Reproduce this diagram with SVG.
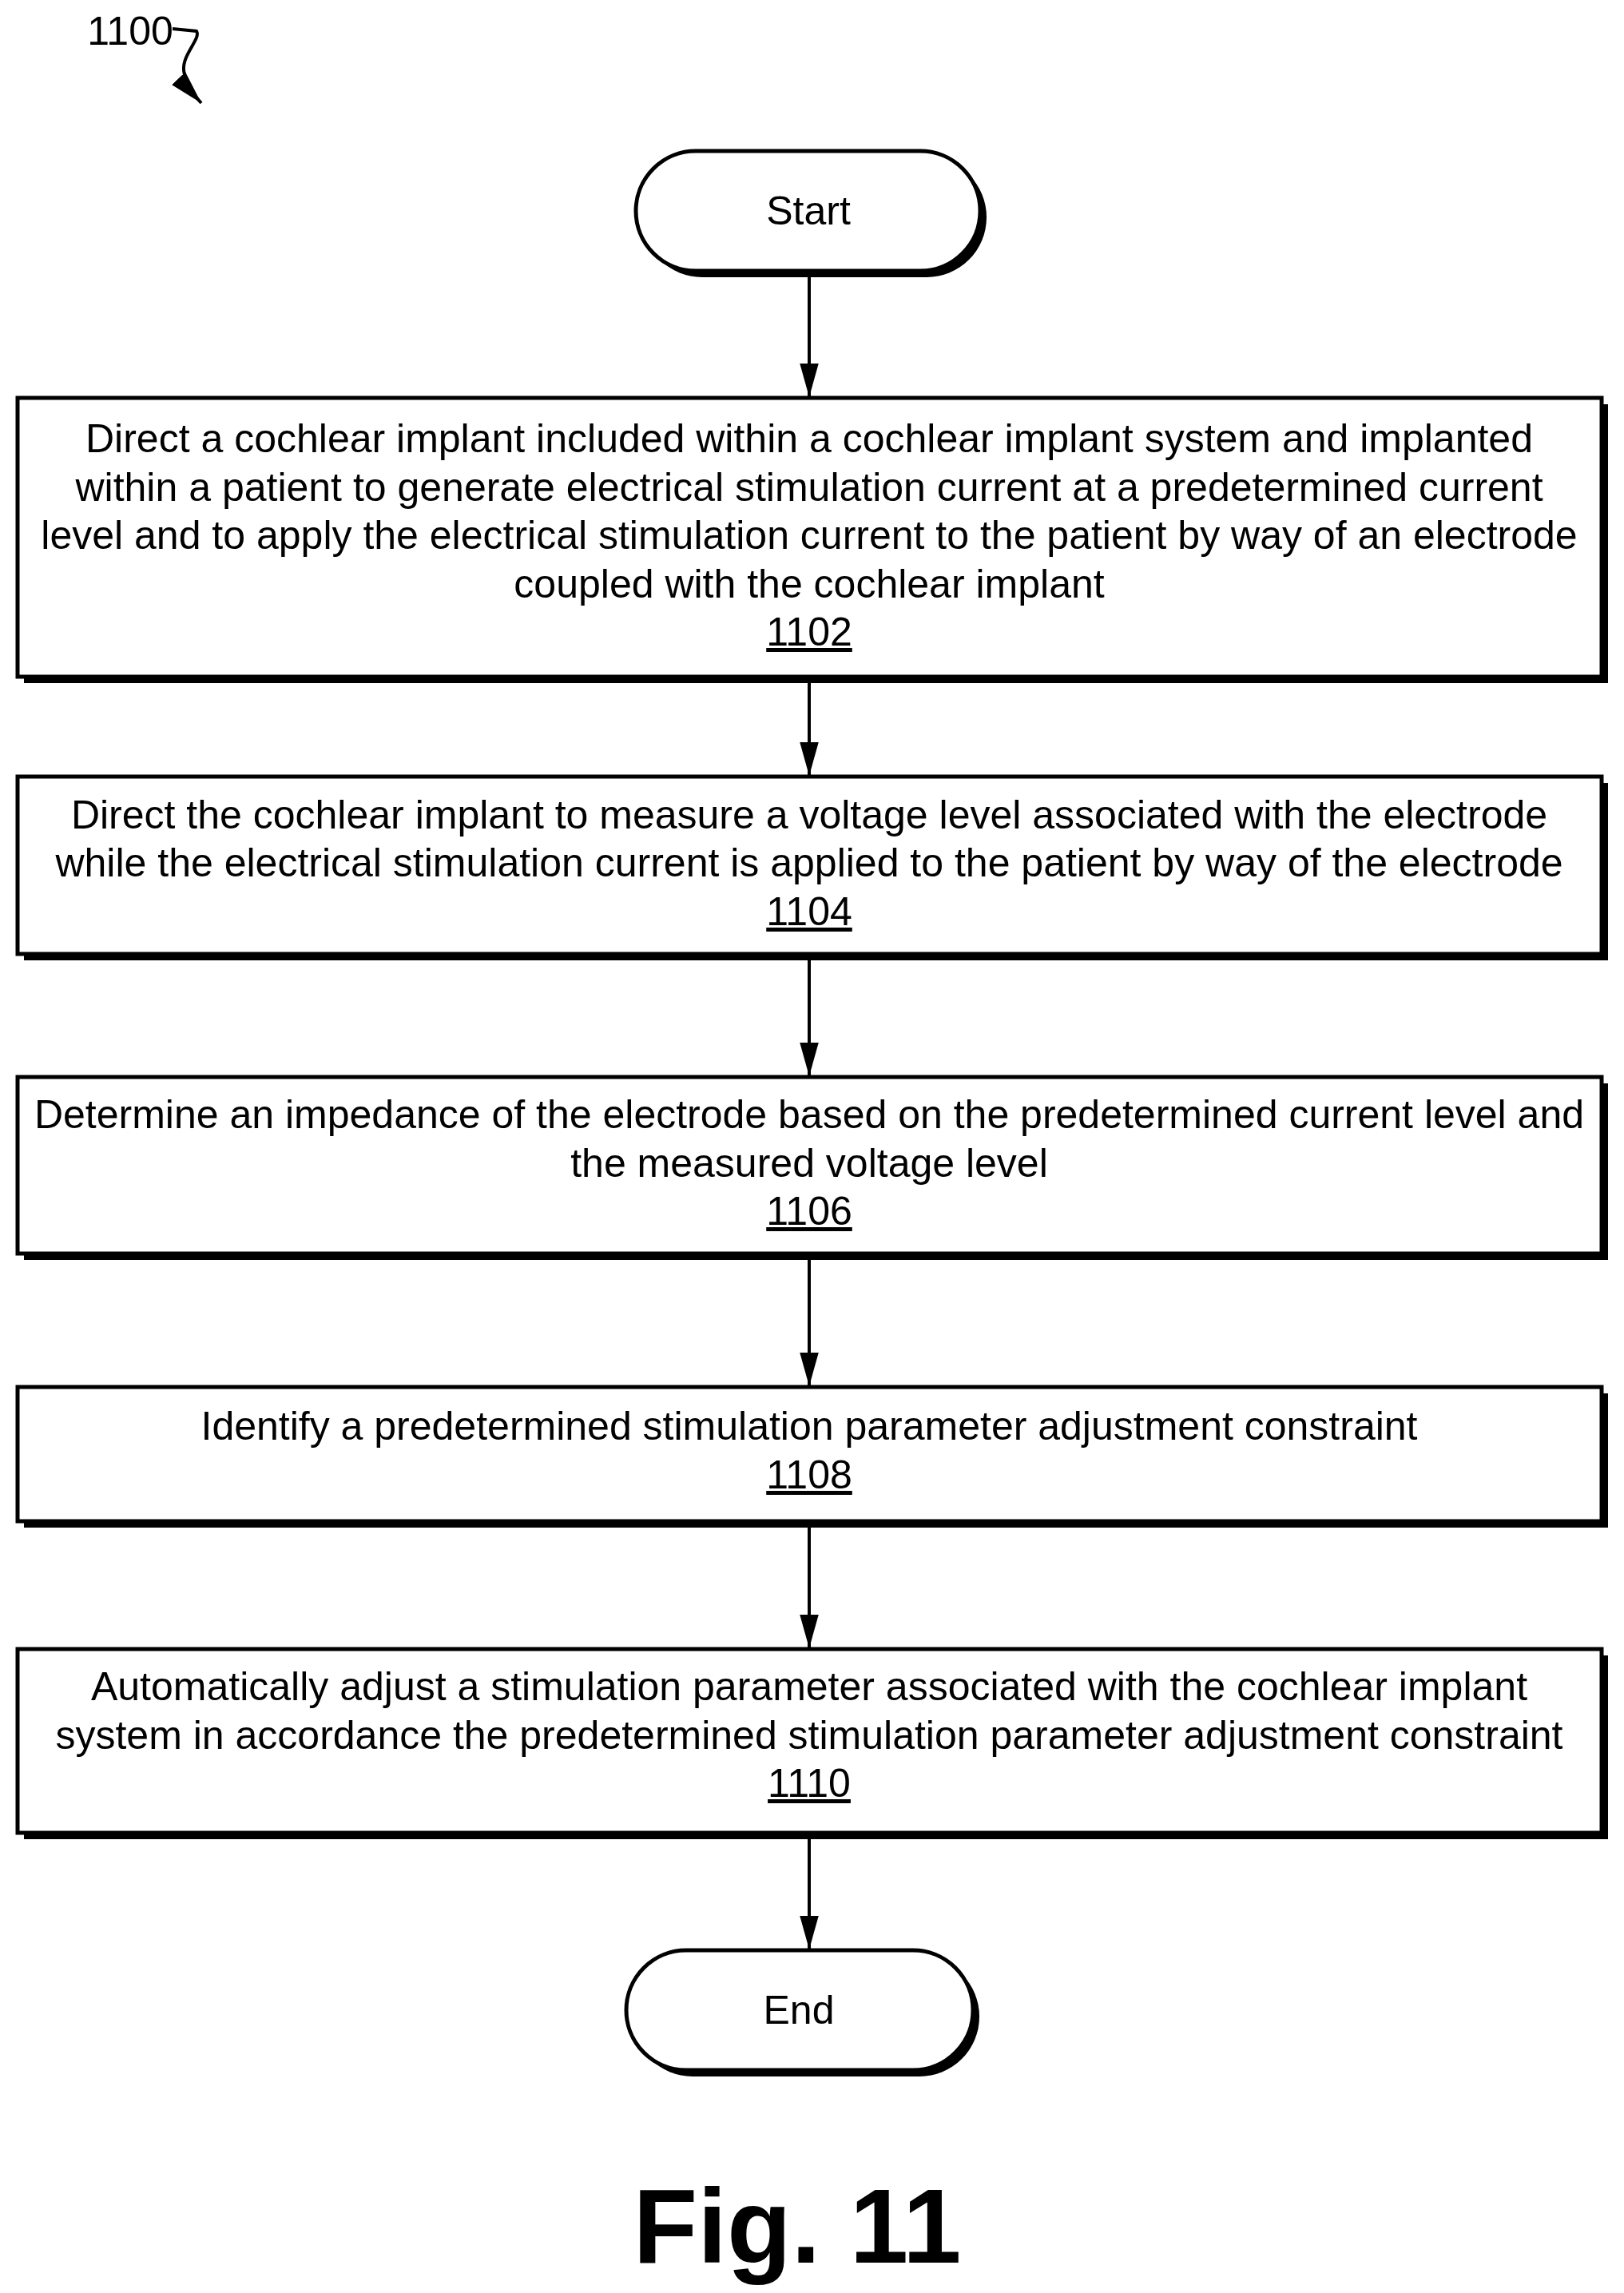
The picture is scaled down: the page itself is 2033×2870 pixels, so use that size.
<svg xmlns="http://www.w3.org/2000/svg" width="2033" height="2870" viewBox="0 0 2033 2870">
<style>
.b{fill:#fff;stroke:#000;stroke-width:5}
.s{fill:#000}
text{font-family:"Liberation Sans",Arial,sans-serif;font-size:50px;text-anchor:middle;fill:#000}
.c{stroke:#000;stroke-width:4;fill:none}
</style>
<defs>
<marker id="A" viewBox="0 0 10 10" refX="10" refY="5" markerWidth="42" markerHeight="42" markerUnits="userSpaceOnUse" orient="auto"><path d="M0,2.2 L10,5 L0,7.8 Z"/></marker></defs>
<g id="label1100"><text x="163" y="56" style="font-size:50px">1100</text>
<path class="c" d="M216,36 L246,39 C252,48 228,68 230,88 C232,105 240,116 252,129" marker-end="url(#A)"/></g>
<g id="connectors">
<line class="c" x1="1013" y1="345" x2="1013" y2="497" marker-end="url(#A)"/>
<line class="c" x1="1013" y1="852" x2="1013" y2="971" marker-end="url(#A)"/>
<line class="c" x1="1013" y1="1200" x2="1013" y2="1347" marker-end="url(#A)"/>
<line class="c" x1="1013" y1="1575" x2="1013" y2="1735" marker-end="url(#A)"/>
<line class="c" x1="1013" y1="1910" x2="1013" y2="2063" marker-end="url(#A)"/>
<line class="c" x1="1013" y1="2300" x2="1013" y2="2440" marker-end="url(#A)"/>
</g>
<g id="start"><rect class="s" x="804" y="197" width="431" height="150" rx="75"/><rect class="b" x="796" y="189" width="431" height="150" rx="75"/><text x="1012" y="281">Start</text></g>
<g id="n1102"><rect class="s" x="30" y="506" width="1983" height="349"/><rect class="b" x="22" y="498" width="1983" height="349"/>
<text x="1013" y="566">Direct a cochlear implant included within a cochlear implant system and implanted</text>
<text x="1013" y="627">within a patient to generate electrical stimulation current at a predetermined current</text>
<text x="1013" y="687">level and to apply the electrical stimulation current to the patient by way of an electrode</text>
<text x="1013" y="748">coupled with the cochlear implant</text>
<text x="1013" y="808" text-decoration="underline">1102</text></g>
<g id="n1104"><rect class="s" x="30" y="980" width="1983" height="222"/><rect class="b" x="22" y="972" width="1983" height="222"/>
<text x="1013" y="1037">Direct the cochlear implant to measure a voltage level associated with the electrode</text>
<text x="1013" y="1097">while the electrical stimulation current is applied to the patient by way of the electrode</text>
<text x="1013" y="1158" text-decoration="underline">1104</text></g>
<g id="n1106"><rect class="s" x="30" y="1356" width="1983" height="221"/><rect class="b" x="22" y="1348" width="1983" height="221"/>
<text x="1013" y="1412">Determine an impedance of the electrode based on the predetermined current level and</text>
<text x="1013" y="1473">the measured voltage level</text>
<text x="1013" y="1533" text-decoration="underline">1106</text></g>
<g id="n1108"><rect class="s" x="30" y="1744" width="1983" height="168"/><rect class="b" x="22" y="1736" width="1983" height="168"/>
<text x="1013" y="1802">Identify a predetermined stimulation parameter adjustment constraint</text>
<text x="1013" y="1863" text-decoration="underline">1108</text></g>
<g id="n1110"><rect class="s" x="30" y="2072" width="1983" height="230"/><rect class="b" x="22" y="2064" width="1983" height="230"/>
<text x="1013" y="2128">Automatically adjust a stimulation parameter associated with the cochlear implant</text>
<text x="1013" y="2189">system in accordance the predetermined stimulation parameter adjustment constraint</text>
<text x="1013" y="2249" text-decoration="underline">1110</text></g>
<g id="end"><rect class="s" x="792" y="2449" width="434" height="150" rx="75"/><rect class="b" x="784" y="2441" width="434" height="150" rx="75"/><text x="1000" y="2533">End</text></g>
<text x="998" y="2832" style="font-size:132px;font-weight:bold">Fig. 11</text>
</svg>
